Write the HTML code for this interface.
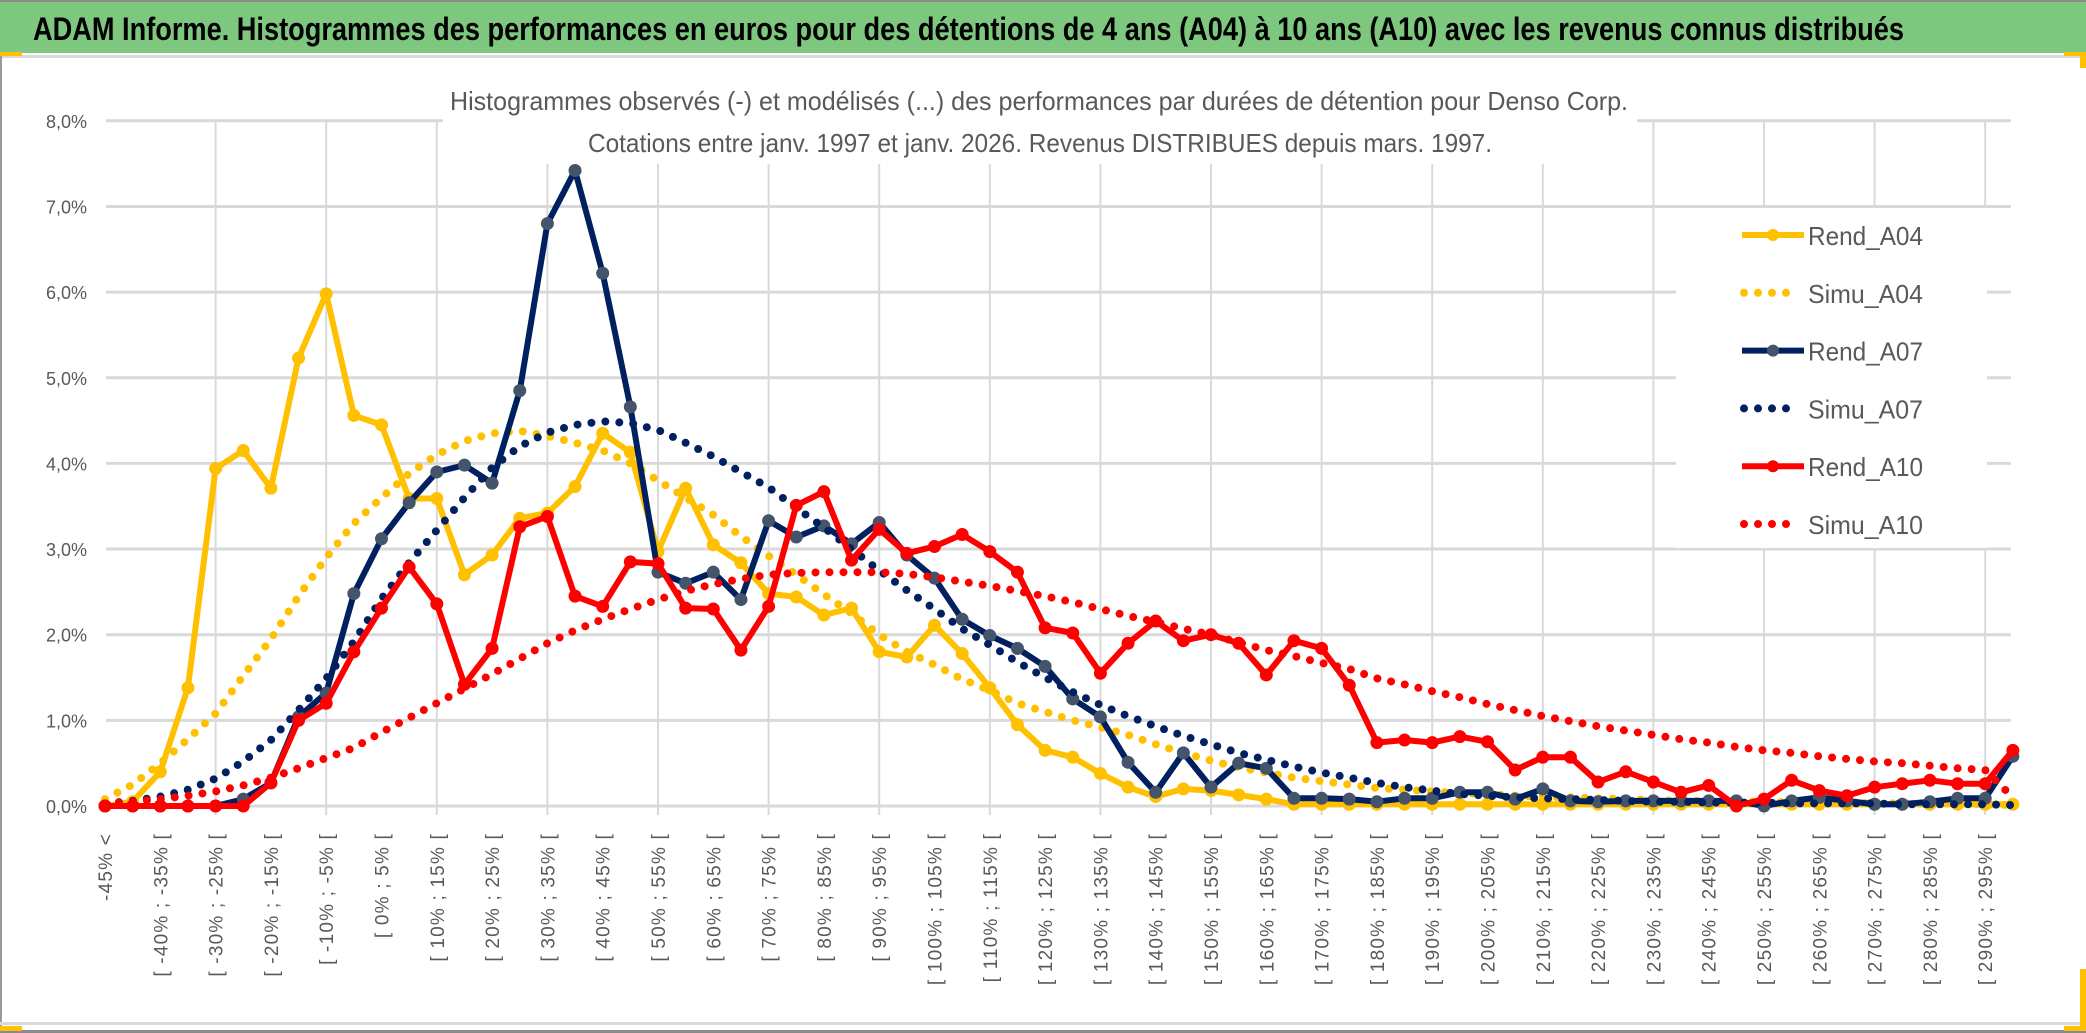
<!DOCTYPE html>
<html><head><meta charset="utf-8">
<style>
html,body{margin:0;padding:0;background:#fff;}
svg{display:block;font-family:"Liberation Sans",sans-serif;}
</style></head>
<body>
<svg id="chart" width="2086" height="1033" viewBox="0 0 2086 1033" xmlns="http://www.w3.org/2000/svg">
  <rect x="0" y="0" width="2086" height="1033" fill="#ffffff"/>
  <rect x="0" y="0" width="2086" height="53" fill="#7ec77f"/>
  <rect x="0" y="0" width="2086" height="2" fill="#8a8a8a"/>
  <rect x="0" y="55" width="2086" height="3" fill="#d9d9d9"/>
  <rect x="0" y="53" width="2" height="980" fill="#9a9a9a"/>
  <rect x="0" y="1022" width="2086" height="3" fill="#d9d9d9"/>
  <rect x="0" y="1030" width="2086" height="3" fill="#8a8a8a"/>
  <rect x="0" y="52" width="22" height="4" fill="#ffc000"/>
  <rect x="0" y="1026" width="22" height="5" fill="#ffc000"/>
  <rect x="2064" y="52" width="22" height="4" fill="#ffc000"/>
  <rect x="2080" y="52" width="6" height="16" fill="#ffc000"/>
  <rect x="2064" y="1026" width="22" height="5" fill="#ffc000"/>
  <rect x="2080" y="969" width="6" height="60" fill="#ffc000"/>
  <text x="33" y="40" font-size="32" font-weight="bold" fill="#000" textLength="1871" lengthAdjust="spacingAndGlyphs">ADAM Informe. Histogrammes des performances en euros pour des détentions de 4 ans (A04) à 10 ans (A10) avec les revenus connus distribués</text>

  <g id="grid"></g>
  <rect x="443" y="78" width="1194" height="86" fill="#fff"/>
  <text x="450" y="110" font-size="26" fill="#595959" textLength="1178" lengthAdjust="spacingAndGlyphs">Histogrammes observés (-) et modélisés (...) des performances par durées de détention pour Denso Corp.</text>
  <text x="588" y="152" font-size="26" fill="#595959" textLength="904" lengthAdjust="spacingAndGlyphs">Cotations entre janv. 1997 et janv. 2026. Revenus DISTRIBUES depuis mars. 1997.</text>
  <g id="yaxis"></g>
  <g id="xaxis"></g>
  <rect x="1676" y="208" width="311" height="340" fill="#fff"/>
  <g id="series"></g>
  <g id="legend"></g>
</svg>
<script>
const categories = ["-45% <","[ -45% ; -40% [","[ -40% ; -35% [","[ -35% ; -30% [","[ -30% ; -25% [","[ -25% ; -20% [","[ -20% ; -15% [","[ -15% ; -10% [","[ -10% ; -5% [","[ -5% ; 0% [",
"[ 0% ; 5% [","[ 5% ; 10% [","[ 10% ; 15% [","[ 15% ; 20% [","[ 20% ; 25% [","[ 25% ; 30% [","[ 30% ; 35% [","[ 35% ; 40% [","[ 40% ; 45% [","[ 45% ; 50% [",
"[ 50% ; 55% [","[ 55% ; 60% [","[ 60% ; 65% [","[ 65% ; 70% [","[ 70% ; 75% [","[ 75% ; 80% [","[ 80% ; 85% [","[ 85% ; 90% [","[ 90% ; 95% [","[ 95% ; 100% [",
"[ 100% ; 105% [","[ 105% ; 110% [","[ 110% ; 115% [","[ 115% ; 120% [","[ 120% ; 125% [","[ 125% ; 130% [","[ 130% ; 135% [","[ 135% ; 140% [","[ 140% ; 145% [","[ 145% ; 150% [",
"[ 150% ; 155% [","[ 155% ; 160% [","[ 160% ; 165% [","[ 165% ; 170% [","[ 170% ; 175% [","[ 175% ; 180% [","[ 180% ; 185% [","[ 185% ; 190% [","[ 190% ; 195% [","[ 195% ; 200% [",
"[ 200% ; 205% [","[ 205% ; 210% [","[ 210% ; 215% [","[ 215% ; 220% [","[ 220% ; 225% [","[ 225% ; 230% [","[ 230% ; 235% [","[ 235% ; 240% [","[ 240% ; 245% [","[ 245% ; 250% [",
"[ 250% ; 255% [","[ 255% ; 260% [","[ 260% ; 265% [","[ 265% ; 270% [","[ 270% ; 275% [","[ 275% ; 280% [","[ 280% ; 285% [","[ 285% ; 290% [","[ 290% ; 295% [","[ 295% ; 300% ["];
const yTicks = [0,1,2,3,4,5,6,7,8];
const yTickLabels = ["0,0%","1,0%","2,0%","3,0%","4,0%","5,0%","6,0%","7,0%","8,0%"];
const rendA04 = [0,0.05,0.4,1.38,3.94,4.15,3.71,5.23,5.98,4.56,4.45,3.59,3.59,2.7,2.93,3.36,3.42,3.73,4.35,4.13,
2.97,3.71,3.05,2.84,2.48,2.44,2.23,2.31,1.8,1.74,2.11,1.78,1.38,0.95,0.65,0.57,0.38,0.22,0.11,0.2,
0.18,0.13,0.08,0.02,0.02,0.02,0.02,0.02,0.02,0.02,0.02,0.02,0.02,0.02,0.02,0.02,0.02,0.02,0.02,0.02,
0.02,0.02,0.02,0.02,0.02,0.02,0.02,0.02,0.02,0.02];
const simuA04 = [0.08,0.25,0.5,0.78,1.08,1.52,1.95,2.45,2.9,3.3,3.6,3.88,4.1,4.26,4.35,4.38,4.32,4.24,4.15,4.0,
3.8,3.6,3.4,3.15,2.92,2.7,2.47,2.25,2.0,1.8,1.65,1.48,1.35,1.2,1.1,1.0,0.92,0.83,0.72,0.62,
0.53,0.45,0.39,0.33,0.29,0.25,0.21,0.19,0.17,0.15,0.14,0.12,0.11,0.1,0.09,0.08,0.07,0.06,0.06,0.05,
0.05,0.04,0.04,0.04,0.03,0.03,0.03,0.03,0.02,0.01];
const rendA07 = [0,0,0,0,0,0.08,0.27,1.04,1.32,2.48,3.12,3.54,3.9,3.98,3.77,4.85,6.8,7.42,6.22,4.66,
2.73,2.6,2.73,2.41,3.33,3.14,3.27,3.06,3.31,2.93,2.66,2.18,1.99,1.84,1.63,1.25,1.04,0.51,0.16,0.62,
0.22,0.5,0.44,0.09,0.09,0.08,0.05,0.09,0.09,0.16,0.16,0.08,0.2,0.06,0.05,0.06,0.06,0.06,0.06,0.06,
0.0,0.06,0.1,0.06,0.02,0.02,0.05,0.09,0.09,0.58];
const simuA07 = [0.03,0.06,0.11,0.19,0.32,0.52,0.77,1.12,1.49,1.92,2.42,2.84,3.22,3.6,3.95,4.2,4.36,4.45,4.49,4.47,
4.39,4.24,4.08,3.9,3.72,3.48,3.25,3.0,2.75,2.52,2.3,2.07,1.88,1.68,1.5,1.33,1.18,1.05,0.93,0.82,
0.72,0.62,0.54,0.46,0.39,0.33,0.27,0.22,0.18,0.14,0.12,0.1,0.09,0.08,0.07,0.06,0.05,0.05,0.04,0.04,
0.04,0.03,0.03,0.03,0.03,0.02,0.02,0.02,0.02,0.01];
const rendA10 = [0,0,0,0,0,0,0.27,1.0,1.2,1.8,2.31,2.79,2.36,1.42,1.84,3.26,3.38,2.45,2.33,2.85,
2.83,2.31,2.3,1.82,2.33,3.51,3.67,2.87,3.23,2.95,3.03,3.17,2.97,2.73,2.08,2.02,1.55,1.9,2.16,1.93,
2.0,1.9,1.53,1.93,1.84,1.41,0.74,0.77,0.74,0.81,0.75,0.42,0.57,0.57,0.28,0.4,0.28,0.16,0.24,0.0,
0.08,0.3,0.18,0.12,0.22,0.26,0.3,0.26,0.26,0.65];
const simuA10 = [0.03,0.05,0.08,0.12,0.17,0.24,0.33,0.44,0.56,0.68,0.86,1.03,1.2,1.37,1.54,1.72,1.9,2.05,2.18,2.3,
2.41,2.51,2.59,2.65,2.7,2.72,2.73,2.73,2.73,2.71,2.67,2.62,2.57,2.51,2.45,2.38,2.3,2.22,2.15,2.07,
2.0,1.91,1.82,1.75,1.67,1.6,1.49,1.42,1.34,1.27,1.19,1.12,1.05,0.99,0.93,0.88,0.83,0.78,0.74,0.69,
0.65,0.62,0.58,0.55,0.52,0.5,0.47,0.44,0.42,0.1];
const seriesNames = ["Rend_A04","Simu_A04","Rend_A07","Simu_A07","Rend_A10","Simu_A10"];

const NS = "http://www.w3.org/2000/svg";
const X0 = 105, DX = 27.65, Y0 = 806, DY = 85.65;
function xPos(i){ return X0 + i*DX; }
function yPos(v){ return Y0 - v*DY; }
function mk(tag, attrs, parent){
  const e = document.createElementNS(NS, tag);
  for (const k in attrs) e.setAttribute(k, attrs[k]);
  parent.appendChild(e);
  return e;
}
const grid = document.getElementById('grid');
const yaxis = document.getElementById('yaxis');
const xaxis = document.getElementById('xaxis');
const seriesG = document.getElementById('series');
const legend = document.getElementById('legend');

yTicks.forEach((t, k) => {
  const l = mk('line', {x1: 106, x2: 2011, y1: yPos(t), y2: yPos(t), stroke: '#d9d9d9', 'stroke-width': 3}, grid);
  
  
  const tx = mk('text', {x: 87, y: yPos(t) + 7, 'font-size': 18, fill: '#595959', 'text-anchor': 'end'}, yaxis);
  tx.textContent = yTickLabels[k];
  
  
});
for (let i = 4; i < categories.length; i += 4) {
  const l = mk('line', {x1: xPos(i), x2: xPos(i), y1: yPos(8), y2: Y0 + 9, stroke: '#d9d9d9', 'stroke-width': 2}, grid);
  
  
}
categories.forEach((c, i) => {
  if (i % 2 !== 0) return;
  const x = xPos(i), y = 833;
  const tx = mk('text', {x: 0, y: 0, 'font-size': 19, 'letter-spacing': 1.2, fill: '#595959', 'text-anchor': 'end',
    transform: 'translate(' + (x + 7) + ',' + y + ') rotate(-90)'}, xaxis);
  tx.textContent = c;
  
  
});

function drawSolid(vals, color, markerColor, name){
  const g = mk('g', {}, seriesG);
  
  
  const pts = vals.map((v, i) => xPos(i).toFixed(1) + ',' + yPos(v).toFixed(1)).join(' ');
  const pl = mk('polyline', {points: pts, fill: 'none', stroke: color, 'stroke-width': 6, 'stroke-linejoin': 'round'}, g);
  
  
  vals.forEach((v, i) => {
    const c = mk('circle', {cx: xPos(i), cy: yPos(v), r: 6, fill: markerColor, stroke: markerColor}, g);
    
    
  });
}
function drawDotted(vals, color, name){
  const pts = vals.map((v, i) => xPos(i).toFixed(1) + ',' + yPos(v).toFixed(1)).join(' ');
  const pl = mk('polyline', {points: pts, fill: 'none', stroke: color, 'stroke-width': 8, 'stroke-linecap': 'round', 'stroke-linejoin': 'round', 'stroke-dasharray': '0 14'}, seriesG);
  
  
}
drawSolid(rendA04, '#ffc000', '#ffc000', 'rend-a04-series');
drawDotted(simuA04, '#ffc000', 'simu-a04-series');
drawSolid(rendA07, '#002060', '#44546a', 'rend-a07-series');
drawDotted(simuA07, '#002060', 'simu-a07-series');
drawSolid(rendA10, '#ff0000', '#ff0000', 'rend-a10-series');
drawDotted(simuA10, '#ff0000', 'simu-a10-series');

const legendColors = ['#ffc000','#ffc000','#002060','#002060','#ff0000','#ff0000'];
const legendMarkers = ['#ffc000',null,'#44546a',null,'#ff0000',null];
seriesNames.forEach((n, k) => {
  const y = 235 + k*57.8;
  const g = mk('g', {}, legend);
  
  
  if (legendMarkers[k]) {
    mk('line', {x1: 1742, x2: 1804, y1: y, y2: y, stroke: legendColors[k], 'stroke-width': 6}, g);
    mk('circle', {cx: 1773, cy: y, r: 6, fill: legendMarkers[k]}, g);
  } else {
    mk('line', {x1: 1744, x2: 1800, y1: y, y2: y, stroke: legendColors[k], 'stroke-width': 8, 'stroke-linecap': 'round', 'stroke-dasharray': '0 14'}, g);
  }
  const t = mk('text', {x: 1808, y: y + 10, 'font-size': 26, fill: '#595959', textLength: 115, lengthAdjust: 'spacingAndGlyphs'}, g);
  t.textContent = n;
  
  
});
</script>
</body></html>
